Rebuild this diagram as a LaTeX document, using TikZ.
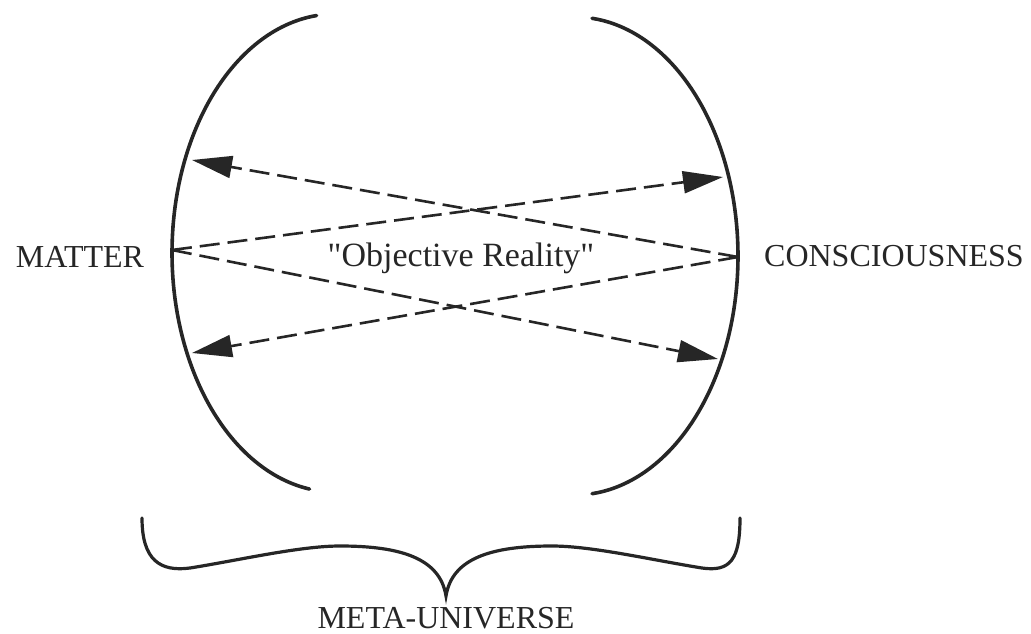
\documentclass[tikz,border=0pt]{standalone}
\usepackage{fontspec}
\setmainfont{Liberation Serif}[Ligatures=TeXOff]
\usetikzlibrary{arrows.meta}
\begin{document}
\begin{tikzpicture}[x=1pt,y=-1pt,
  paren/.style={line width=3.6pt,line cap=round,color=black!85},
  crossarrow/.style={line width=2.6pt,color=black!85,dash pattern=on 20pt off 8pt,
    -{Triangle[length=40pt,width=22pt]}},
  label/.style={anchor=base,inner sep=0pt,font=\fontsize{32}{38}\selectfont,text=black!85}]
\useasboundingbox (0,0) rectangle (1031,634);

% the two bracketing curves
\draw[paren] plot[domain=-83.5:81,samples=80,smooth] ({335-163*cos(\x)},{253+239*sin(\x)});
\draw[paren] plot[domain=-84:84,samples=80,smooth] ({575+163*cos(\x)},{256+239*sin(\x)});

% end points of the dashed arrows
\coordinate (M) at (172,250);
\coordinate (C) at (738,257);
\coordinate (ul) at (192,160);
\coordinate (ll) at (192,353);
\coordinate (ur) at (723,177);
\coordinate (lr) at (718,359);

\draw[crossarrow] (M) -- (ur);
\draw[crossarrow] (M) -- (lr);
\draw[crossarrow] (C) -- (ul);
\draw[crossarrow] (C) -- (ll);

% labels
\node[label] (matter) at (80,267) {MATTER};
\node[label] (cons) at (894,266) {CONSCIOUSNESS};
\node[label,font=\fontsize{34}{40}\selectfont] (obj) at (461,266) {"Objective Reality"};

% brace underneath
\draw[paren,line width=3.2pt] (142,518) .. controls (142,560) and (160,572) .. (190,568)
  .. controls (240,560) and (300,546) .. (340,546)
  .. controls (400,546) and (440,558) .. (446,596)
  .. controls (452,558) and (492,546) .. (552,546)
  .. controls (592,546) and (652,560) .. (702,568)
  .. controls (730,572) and (740,560) .. (740,518);
\node[label] (meta) at (446,628) {META-UNIVERSE};
\end{tikzpicture}
\end{document}
